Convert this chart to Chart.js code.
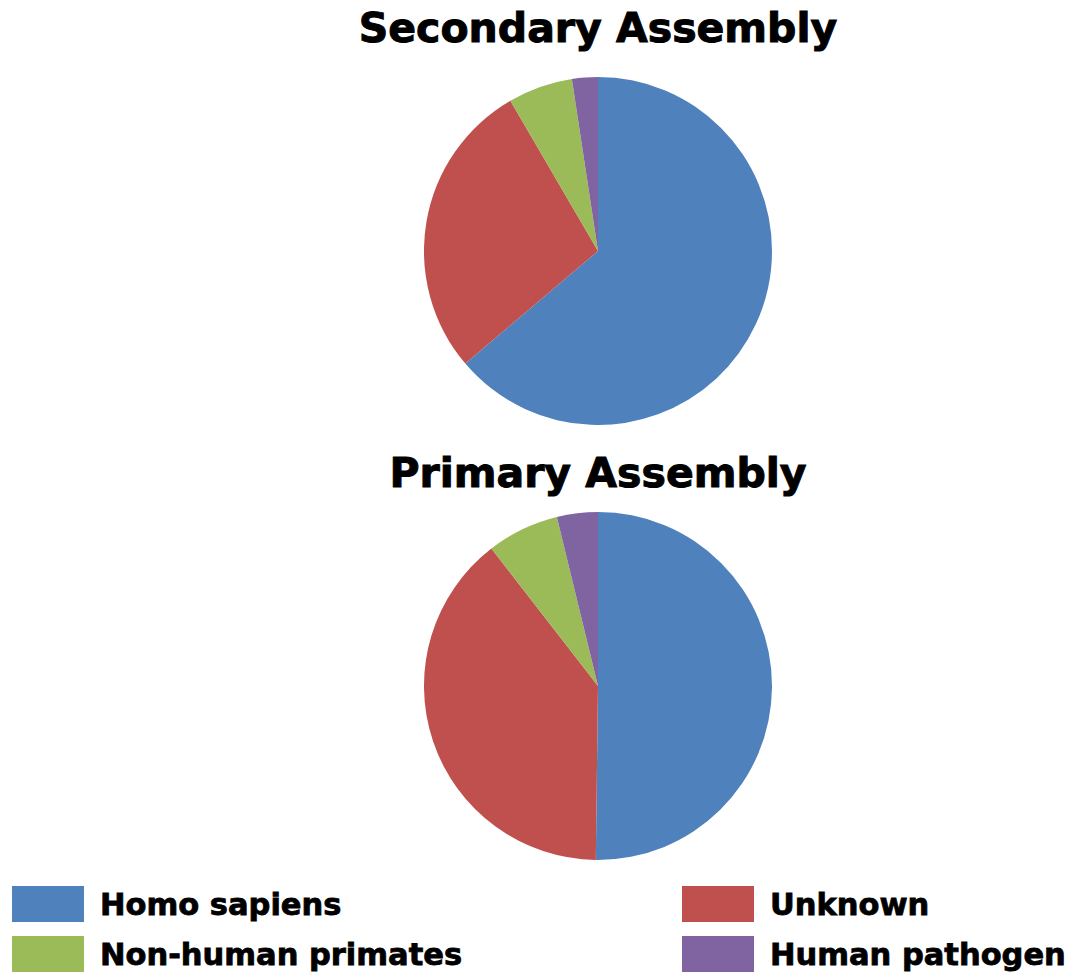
<!DOCTYPE html>
<html>
<head>
<meta charset="utf-8">
<script src="https://cdn.jsdelivr.net/npm/chart.js@4/dist/chart.umd.min.js"></script>
<style>
  html, body { margin: 0; padding: 0; background: #ffffff; }
  body { width: 1092px; height: 979px; position: relative; overflow: hidden;
         font-family: "DejaVu Sans", "Liberation Sans", sans-serif; font-weight: bold; color: #000; }
  .title { position: absolute; left: 0; width: 1196px; text-align: center; font-size: 41px; line-height: 48px;
           white-space: nowrap; -webkit-text-stroke: 1px #000; }
  .pie { position: absolute; left: 424px; width: 348px; height: 348px; }
  .legend-item { position: absolute; display: flex; align-items: center; height: 36px; font-size: 30.5px;
                 white-space: nowrap; -webkit-text-stroke: 0.8px #000; }
  .swatch { display: inline-block; width: 72px; height: 36px; margin-right: 16px; flex: none; }
</style>
</head>
<body>
<div class="title" style="top:4px">Secondary Assembly</div>
<div class="pie" style="top:77px"><canvas id="secondary"></canvas></div>
<div class="title" style="top:449px">Primary Assembly</div>
<div class="pie" style="top:512px"><canvas id="primary"></canvas></div>
<div id="legend"></div>
<script>
// Source categories and their shares (%) in each assembly
const categories = ["Homo sapiens", "Unknown", "Non-human primates", "Human pathogen"];
const secondaryShares = [63.8, 27.8, 6.0, 2.4];
const primaryShares = [50.2, 39.3, 6.7, 3.8];
const sliceColors = ["#4F81BD", "#C0504D", "#9BBB59", "#8064A2"];

function makePie(id, values) {
  return new Chart(document.getElementById(id), {
    type: "pie",
    data: {
      labels: categories,
      datasets: [{
        data: values,
        backgroundColor: sliceColors,
        borderWidth: 0,
        hoverOffset: 0
      }]
    },
    options: {
      responsive: true,
      maintainAspectRatio: false,
      animation: false,
      rotation: 0,
      layout: { padding: 0 },
      plugins: {
        legend: { display: false },
        title: { display: false },
        tooltip: { enabled: false }
      }
    }
  });
}

makePie("secondary", secondaryShares);
const primaryChart = makePie("primary", primaryShares);

// Two-column legend below the pies, built from the chart's own legend items
const legendPos = {
  "Homo sapiens":       { left: 12,  top: 886 },
  "Unknown":            { left: 682, top: 886 },
  "Non-human primates": { left: 12,  top: 936 },
  "Human pathogen":     { left: 682, top: 936 }
};
const legendEl = document.getElementById("legend");
primaryChart.options.plugins.legend.labels.generateLabels(primaryChart).forEach(item => {
  const pos = legendPos[item.text];
  const el = document.createElement("div");
  el.className = "legend-item";
  el.style.left = pos.left + "px";
  el.style.top = pos.top + "px";
  const sw = document.createElement("span");
  sw.className = "swatch";
  sw.style.background = item.fillStyle;
  el.appendChild(sw);
  el.appendChild(document.createTextNode(item.text));
  legendEl.appendChild(el);
});
</script>
</body>
</html>
